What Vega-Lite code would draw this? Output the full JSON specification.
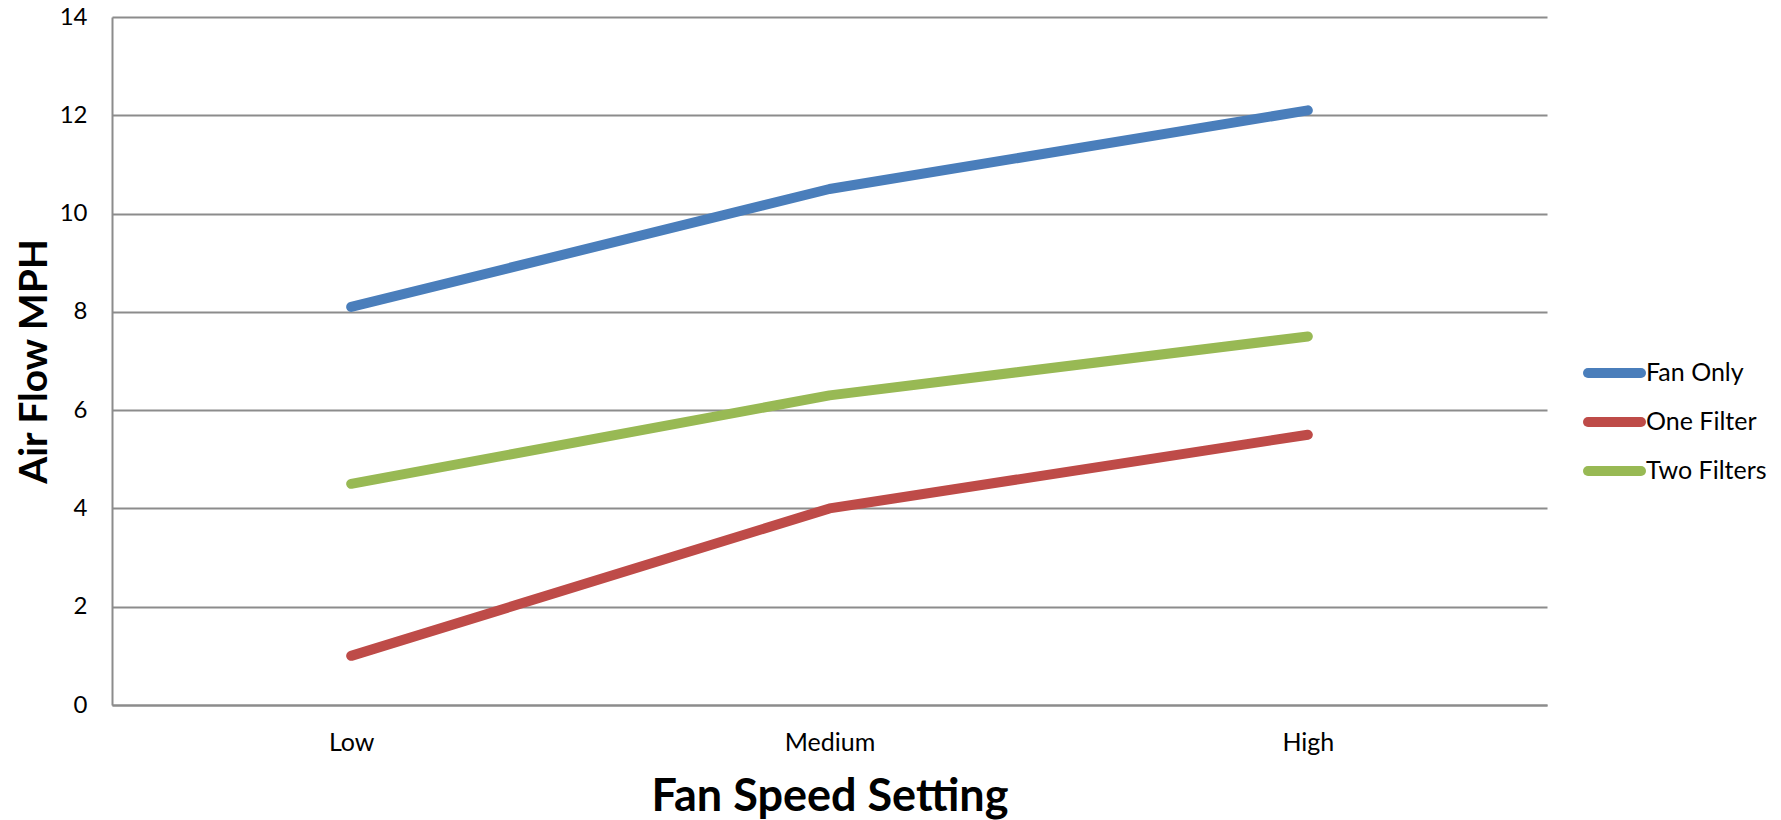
{
  "$schema": "https://vega.github.io/schema/vega-lite/v6.json",
  "width": 1435,
  "height": 688,
  "autosize": {"type": "none"},
  "padding": {"left": 112, "top": 17, "right": 234, "bottom": 115},
  "background": "white",
  "config": {
    "font": "Lato",
    "view": {"stroke": null},
    "axis": {"labelFont": "Lato", "titleFont": "Lato", "labelColor": "#000000", "titleColor": "#000000"}
  },
  "data": {
    "values": [
      {"setting": "Low", "series": "Fan Only", "mph": 8.1},
      {"setting": "Medium", "series": "Fan Only", "mph": 10.5},
      {"setting": "High", "series": "Fan Only", "mph": 12.1},
      {"setting": "Low", "series": "One Filter", "mph": 1.0},
      {"setting": "Medium", "series": "One Filter", "mph": 4.0},
      {"setting": "High", "series": "One Filter", "mph": 5.5},
      {"setting": "Low", "series": "Two Filters", "mph": 4.5},
      {"setting": "Medium", "series": "Two Filters", "mph": 6.3},
      {"setting": "High", "series": "Two Filters", "mph": 7.5}
    ]
  },
  "mark": {"type": "line", "strokeWidth": 10, "strokeCap": "round", "strokeJoin": "round"},
  "encoding": {
    "x": {
      "field": "setting",
      "type": "ordinal",
      "sort": ["Low", "Medium", "High"],
      "scale": {"type": "point", "padding": 0.5},
      "axis": {
        "title": "Fan Speed Setting",
        "titleFontSize": 45,
        "titleFontWeight": "bold",
        "titleBaseline": "middle",
        "titleY": 91,
        "labelFontSize": 25,
        "labelPadding": 25,
        "labelAngle": 0,
        "ticks": false,
        "grid": false,
        "domainColor": "#8c8c8c",
        "domainWidth": 2
      }
    },
    "y": {
      "field": "mph",
      "type": "quantitative",
      "scale": {"domain": [0, 14], "nice": false},
      "axis": {
        "title": "Air Flow MPH",
        "titleFontSize": 39,
        "titleFontWeight": "bold",
        "titleBaseline": "middle",
        "titleX": -78,
        "labelFontSize": 24,
        "labelPadding": 25,
        "values": [0, 2, 4, 6, 8, 10, 12, 14],
        "ticks": false,
        "grid": true,
        "gridColor": "#8c8c8c",
        "gridWidth": 2,
        "domainColor": "#8c8c8c",
        "domainWidth": 2
      }
    },
    "color": {
      "field": "series",
      "type": "nominal",
      "sort": ["Fan Only", "One Filter", "Two Filters"],
      "scale": {"domain": ["Fan Only", "One Filter", "Two Filters"], "range": ["#4a7ebb", "#be4b48", "#98b954"]},
      "legend": {
        "title": null,
        "orient": "none",
        "legendX": 1471,
        "legendY": 344,
        "symbolType": "stroke",
        "symbolSize": 2809,
        "symbolStrokeWidth": 10,
        "labelFontSize": 25,
        "labelFont": "Lato",
        "labelColor": "#000000",
        "labelOffset": 0,
        "clipHeight": 24,
        "rowPadding": 24,
        "padding": 0,
        "encode": {
          "symbols": {"update": {"strokeCap": {"value": "round"}}}
        }
      }
    }
  }
}
